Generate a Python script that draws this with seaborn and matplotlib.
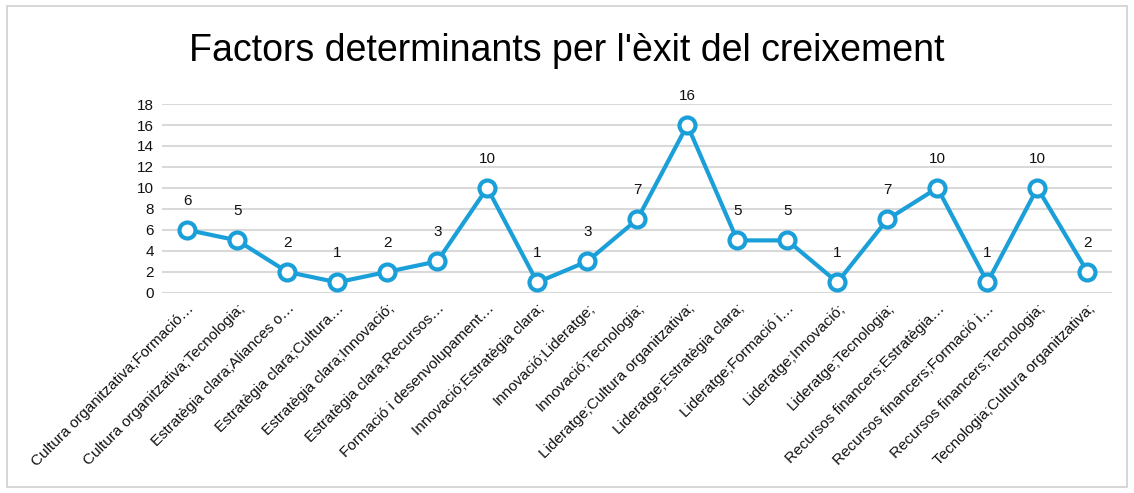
import matplotlib
matplotlib.use("Agg")
import matplotlib.pyplot as plt
import matplotlib.transforms as mtransforms
import seaborn as sns
import pandas as pd
from matplotlib.patches import Rectangle

categories = [
    "Cultura organitzativa;Formació…",
    "Cultura organitzativa;Tecnologia;",
    "Estratègia clara;Aliances o…",
    "Estratègia clara;Cultura…",
    "Estratègia clara;Innovació;",
    "Estratègia clara;Recursos…",
    "Formació i desenvolupament…",
    "Innovació;Estratègia clara;",
    "Innovació;Lideratge;",
    "Innovació;Tecnologia;",
    "Lideratge;Cultura organitzativa;",
    "Lideratge;Estratègia clara;",
    "Lideratge;Formació i…",
    "Lideratge;Innovació;",
    "Lideratge;Tecnologia;",
    "Recursos financers;Estratègia…",
    "Recursos financers;Formació i…",
    "Recursos financers;Tecnologia;",
    "Tecnologia;Cultura organitzativa;",
]
values = [6, 5, 2, 1, 2, 3, 10, 1, 3, 7, 16, 5, 5, 1, 7, 10, 1, 10, 2]
yticks = [0, 2, 4, 6, 8, 10, 12, 14, 16, 18]
title = "Factors determinants per l'èxit del creixement"

sns.set_theme(style="white")
plt.rcParams['font.family'] = ['Liberation Sans', 'DejaVu Sans']

df = pd.DataFrame({"cat": categories, "val": values})
df["x"] = range(len(df))

fig = plt.figure(figsize=(11.34, 4.93), dpi=100)
ax = fig.add_axes([0.143, 0.406, 0.838, 0.383])

color = "#1A9FD9"
sns.lineplot(data=df, x="x", y="val", ax=ax, color=color, linewidth=3,
             marker="o", markersize=11.5, markerfacecolor="white",
             markeredgecolor=color, markeredgewidth=3, zorder=3)

for xi, v in zip(df["x"], df["val"]):
    ax.annotate(str(v), (xi, v), xytext=(0, 16), textcoords="offset points",
                ha="center", va="bottom", fontsize=11, color="#111111")

ax.set_xlim(-0.5, len(categories) - 0.5)
ax.set_ylim(0, 18)
ax.set_yticks(yticks)
ax.set_yticklabels([str(t) for t in yticks], fontsize=11, color="#111111")
ax.set_xticks(df["x"])
ax.set_xticklabels(categories, rotation=45, ha="right", rotation_mode="anchor",
                   fontsize=11, color="#111111")
offset = mtransforms.ScaledTranslation(6 / 72, 0, fig.dpi_scale_trans)
for lbl in ax.get_xticklabels():
    lbl.set_transform(lbl.get_transform() + offset)
ax.tick_params(axis="both", length=0, pad=6)
ax.grid(axis="y", color="#D9D9D9", linewidth=1.5)
ax.set_axisbelow(True)
for s in ax.spines.values():
    s.set_visible(False)
ax.set_xlabel("")
ax.set_ylabel("")

fig.text(0.5, 0.897, title, ha="center", va="center", fontsize=27, color="#000000")

fig.patches.append(Rectangle((0.006, 0.012), 0.988, 0.976, transform=fig.transFigure,
                             fill=False, edgecolor="#D0D0D0", linewidth=1.2))

fig.savefig("out.png", dpi=100, facecolor="white")
